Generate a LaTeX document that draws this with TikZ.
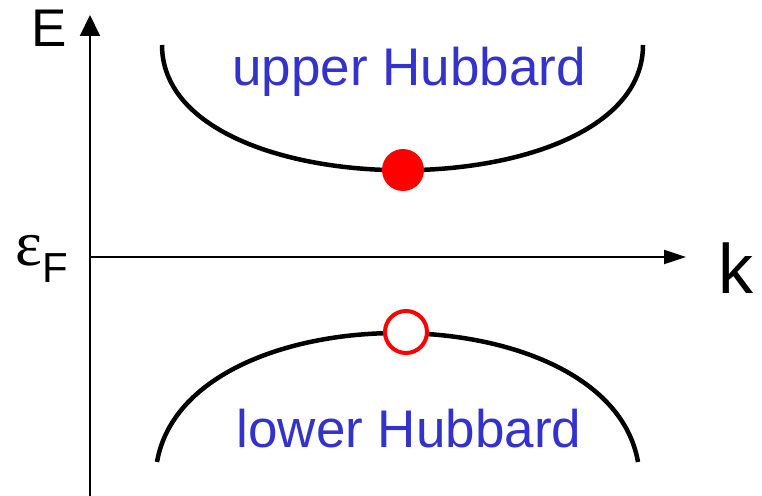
\documentclass[tikz,border=0pt]{standalone}
\usepackage{fontspec}
\setmainfont{Liberation Sans}
\newfontfamily\epsfont{Liberation Serif}
\usetikzlibrary{arrows.meta}
\definecolor{hubblue}{RGB}{51,51,204}

\begin{document}
\begin{tikzpicture}[x=1pt, y=-1pt, every node/.style={inner sep=0pt},
	axis/.style={line width=2pt},
	band/.style={line width=4.5pt},
	bandname/.style={anchor=base, text=hubblue, font=\fontsize{53}{60}\selectfont},
	electron/.style={circle, fill=red, minimum size=42pt},
	hole/.style={circle, draw=red, line width=4pt, fill=white, minimum size=42pt}]
	\useasboundingbox (0,0) rectangle (762,495);
	\coordinate (O) at (90,257);
	\coordinate (Ebot) at (90,496);
	\coordinate (Etop) at (90,15);
	\coordinate (kend) at (686,257);
	\draw[axis, -{Triangle[length=21pt, width=20pt]}] (Ebot) -- (Etop);
	\draw[axis, -{Triangle[length=22pt, width=14pt]}] (O) -- (kend);
	\node[anchor=base, font=\fontsize{53}{60}\selectfont] (E) at (49,47) {E};
	\node[anchor=base, font=\fontsize{70}{80}\selectfont] (k) at (736,293) {k};
	\node[anchor=base west] (eF) at (15,265) {\epsfont\fontsize{64}{70}\selectfont ε\raisebox{-17pt}{\rmfamily\fontsize{42}{50}\selectfont F}};
	\draw[band] (162,45) .. controls (162,212) and (643,212) .. (643,45);
	\draw[band] (157,462) .. controls (187,290) and (608,290) .. (638,462);
	\node[bandname] (upper) at (409,85) {upper Hubbard};
	\node[bandname] (lower) at (409,447) {lower Hubbard};
	\node[electron] (el) at (403,170) {};
	\node[hole] (hl) at (406,332) {};
\end{tikzpicture}
\end{document}
